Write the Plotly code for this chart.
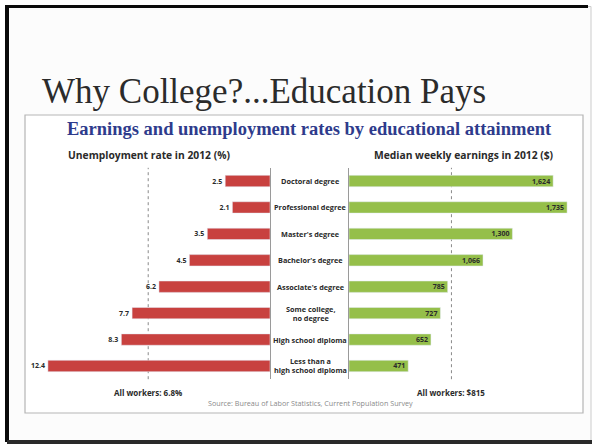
import plotly.graph_objects as go

W, H = 594, 445

categories = ["Doctoral degree", "Professional degree", "Master's degree", "Bachelor's degree",
              "Associate's degree", "Some college,<br>no degree", "High school diploma",
              "Less than a<br>high school diploma"]
unemployment = [2.5, 2.1, 3.5, 4.5, 6.2, 7.7, 8.3, 12.4]
earnings = [1624, 1735, 1300, 1066, 785, 727, 652, 471]
unemp_labels = ["2.5", "2.1", "3.5", "4.5", "6.2", "7.7", "8.3", "12.4"]
earn_labels = ["1,624", "1,735", "1,300", "1,066", "785", "727", "652", "471"]
all_unemp = 6.8
all_earn = 815

def px(x):
    return x / W

def py(y):
    return 1 - y / H

RED = "#c8413f"
GREEN = "#95bf4a"
TXT = "#2a2a2a"
SANS = "Open Sans, Lato, sans-serif"

fig = go.Figure()
fig.add_trace(go.Bar(
    x=unemployment, y=categories, orientation="h", marker_color=RED, width=0.43,
    text=["<b>%s</b>" % t for t in unemp_labels], textposition="outside", cliponaxis=False,
    textfont=dict(size=7, color=TXT, family=SANS), xaxis="x", yaxis="y",
    hoverinfo="skip"))
fig.add_trace(go.Bar(
    x=earnings, y=categories, orientation="h", marker_color=GREEN, width=0.43,
    text=["<b>%s</b>" % t for t in earn_labels], textposition="inside", insidetextanchor="end",
    textfont=dict(size=7, color=TXT, family=SANS), xaxis="x2", yaxis="y2",
    hoverinfo="skip"))

ytop, ybot = py(167.8), py(379.2)
fig.update_layout(
    width=W, height=H, margin=dict(l=0, r=0, t=0, b=0),
    paper_bgcolor="#ffffff", plot_bgcolor="rgba(0,0,0,0)",
    showlegend=False, bargap=0.6,
    uniformtext=dict(minsize=7, mode="show"),
    xaxis=dict(domain=[px(30), px(270)], range=[13.4, 0], visible=False, fixedrange=True),
    yaxis=dict(domain=[ybot, ytop], anchor="x", type="category", categoryarray=categories,
               range=[7.5, -0.5], side="right", showline=True, linecolor="#9a9a9a",
               linewidth=1, showticklabels=False, ticks="", showgrid=False, zeroline=False),
    xaxis2=dict(domain=[px(349), px(575)], range=[0, 1798], visible=False, fixedrange=True),
    yaxis2=dict(domain=[ybot, ytop], anchor="x2", type="category", categoryarray=categories,
                range=[7.5, -0.5], side="left", showline=True, linecolor="#9a9a9a",
                linewidth=1, showticklabels=False, ticks="", showgrid=False, zeroline=False),
)

shapes = []
# slide frame
shapes.append(dict(type="rect", xref="paper", yref="paper", x0=px(7), x1=px(591), y0=py(441), y1=py(6.5),
                   line=dict(color="#cccccc", width=1), fillcolor="#fcfcfc", layer="below"))
shapes.append(dict(type="line", xref="paper", yref="paper", x0=px(7), x1=px(7), y0=py(442), y1=py(5),
                   line=dict(color="#0a0a0a", width=4), layer="below"))
shapes.append(dict(type="line", xref="paper", yref="paper", x0=px(5), x1=px(588), y0=py(6.5), y1=py(6.5),
                   line=dict(color="#0a0a0a", width=3), layer="below"))
shapes.append(dict(type="line", xref="paper", yref="paper", x0=px(7), x1=px(592), y0=py(442), y1=py(442),
                   line=dict(color="#2a2a2a", width=4), layer="below"))
# chart box
shapes.append(dict(type="rect", xref="paper", yref="paper", x0=px(25), x1=px(583), y0=py(413), y1=py(115),
                   line=dict(color="#b5b5b5", width=1.2), fillcolor="white", layer="below"))
# average lines
shapes.append(dict(type="line", xref="x", yref="paper", x0=all_unemp, x1=all_unemp, y0=ybot, y1=ytop,
                   line=dict(color="#8a8a8a", width=1, dash="dot"), layer="below"))
shapes.append(dict(type="line", xref="x2", yref="paper", x0=all_earn, x1=all_earn, y0=ybot, y1=ytop,
                   line=dict(color="#8a8a8a", width=1, dash="dot"), layer="below"))
fig.update_layout(shapes=shapes)

ann = []
ann.append(dict(text="Why College?...Education Pays", x=px(40), y=py(91), xref="paper", yref="paper",
                xanchor="left", yanchor="middle", showarrow=False,
                font=dict(family="Liberation Serif, serif", size=35, color="#2b2b2b")))
ann.append(dict(text="<b>Earnings and unemployment rates by educational attainment</b>",
                x=px(309), y=py(129), xref="paper", yref="paper", xanchor="center", yanchor="middle",
                showarrow=False, font=dict(family="Liberation Serif, serif", size=18.5, color="#2e3b8c")))
ann.append(dict(text="<b>Unemployment rate in 2012 (%)</b>", x=px(66), y=py(155), xref="paper", yref="paper",
                xanchor="left", yanchor="middle", showarrow=False,
                font=dict(family=SANS, size=10.3, color=TXT)))
ann.append(dict(text="<b>Median weekly earnings in 2012 ($)</b>", x=px(556), y=py(155), xref="paper",
                yref="paper", xanchor="right", yanchor="middle", showarrow=False,
                font=dict(family=SANS, size=10.3, color=TXT)))
for c in categories:
    ann.append(dict(text="<b>" + c + "</b>", x=px(310), y=c, xref="paper", yref="y", xanchor="center",
                    yanchor="middle", showarrow=False,
                    font=dict(family=SANS, size=7.3, color=TXT)))
ann.append(dict(text="<b>All workers: %.1f%%</b>" % all_unemp, x=all_unemp, y=py(392), xref="x",
                yref="paper", xanchor="center", yanchor="middle", showarrow=False,
                font=dict(family=SANS, size=8, color=TXT)))
ann.append(dict(text="<b>All workers: $%d</b>" % all_earn, x=all_earn, y=py(392), xref="x2",
                yref="paper", xanchor="center", yanchor="middle", showarrow=False,
                font=dict(family=SANS, size=8, color=TXT)))
ann.append(dict(text="Source: Bureau of Labor Statistics, Current Population Survey", x=px(310), y=py(403),
                xref="paper", yref="paper", xanchor="center", yanchor="middle", showarrow=False,
                font=dict(family=SANS, size=7.2, color="#8a8a8a")))
fig.update_layout(annotations=ann)

fig.write_html("out.html", config={"displayModeBar": False},
               post_script="document.body.style.margin='0';document.body.style.overflow='hidden';")
